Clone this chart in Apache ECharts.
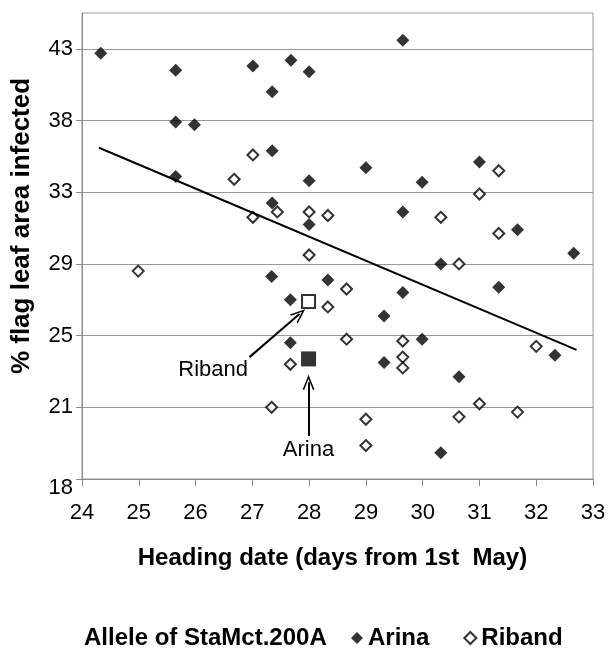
<!DOCTYPE html>
<html>
<head>
<meta charset="utf-8">
<script src="https://cdn.jsdelivr.net/npm/echarts@6/dist/echarts.min.js"></script>
<style>
    html, body { margin: 0; padding: 0; background: #fff; }
    #chart { width: 609px; height: 650px; }
</style>
</head>
<body>
<div id="chart"></div>
<script>
// y axis labels are evenly spaced but not evenly valued
var yTicks = [18, 21, 25, 29, 33, 38, 43];
var dayTicks = [24, 25, 26, 27, 28, 29, 30, 31, 32, 33];

var arinaDay = [24.33, 25.65, 25.65, 25.98, 25.65, 27.01, 27.68, 28.0, 27.35, 29.65, 27.35, 29.0, 31.0, 28.0, 29.99, 27.35, 29.65,
    28.0, 31.67, 32.66, 30.32, 27.34, 28.33, 31.34, 29.65, 27.67, 29.32, 29.99, 27.67, 32.33, 29.32, 30.64, 30.32];
var arinaPct = [42.7, 41.5, 37.9, 37.7, 34.1, 41.8, 42.2, 41.4, 40.0, 43.6, 35.9, 34.7, 35.1, 33.8, 33.7, 32.4, 31.9,
    31.2, 30.9, 29.6, 29.0, 28.3, 28.1, 27.7, 27.4, 27.0, 26.1, 24.8, 24.6, 23.9, 23.5, 22.7, 19.1];

var ribandDay = [24.99, 27.01, 26.68, 27.44, 28.0, 28.33, 27.01, 31.34, 31.0, 30.32, 31.34, 28.0, 30.64, 28.66, 28.33, 28.66,
    29.65, 32.0, 29.65, 29.65, 27.67, 27.34, 31.0, 31.67, 29.0, 30.64, 29.0];
var ribandPct = [28.6, 35.6, 33.9, 31.9, 31.9, 31.7, 31.6, 34.5, 32.9, 31.6, 30.7, 29.5, 29.0, 27.6, 26.6, 24.8,
    24.7, 24.4, 23.8, 23.2, 23.4, 21.0, 21.2, 20.8, 20.5, 20.6, 19.4];

// parent lines
var arinaParent = [27.99, 23.7];
var ribandParent = [27.99, 26.9];

// linear trend
var trendDay = [24.3, 32.71];
var trendPct = [36.1, 24.2];

// annotation arrows [from, to] and label spots
var ribandArrow = [[26.95, 23.8], [27.83, 26.2]];
var arinaArrow = [[27.99, 19.8], [27.99, 22.4]];
var ribandLabelAt = [26.31, 23.1];
var arinaLabelAt = [27.99, 19.2];

var FONT = "'Liberation Sans', Arial, sans-serif";

// map a percent value onto the evenly spaced tick positions
function toPos(v) {
    var n = yTicks.length;
    for (var i = 0; i < n - 1; i++) {
        if (v <= yTicks[i + 1] || i === n - 2) {
            return i + (v - yTicks[i]) / (yTicks[i + 1] - yTicks[i]);
        }
    }
}
function pt(d, p) { return [d, toPos(p)]; }
function zipPts(days, pcts) {
    return days.map(function (d, i) { return pt(d, pcts[i]); });
}

var arrowHead = 'path://M5,0 L10,12 L8.6,12 L5,3.2 L1.4,12 L0,12 Z';

var chart = echarts.init(document.getElementById('chart'), null, { renderer: 'canvas' });

chart.setOption({
    animation: false,
    backgroundColor: '#fff',
    textStyle: { fontFamily: FONT },
    title: {
        text: 'Allele of StaMct.200A',
        left: 84,
        top: 626,
        padding: 0,
        textStyle: { fontFamily: FONT, fontSize: 24, fontWeight: 'bold', color: '#000' }
    },
    legend: {
        data: ['Arina', 'Riband'],
        left: 351,
        top: 626,
        padding: 0,
        itemGap: 34,
        itemWidth: 12,
        itemHeight: 12,
        textStyle: { fontFamily: FONT, fontSize: 24, fontWeight: 'bold', color: '#000' }
    },
    grid: {
        left: 82, right: 16, top: 13, bottom: 171,
        show: true, borderColor: '#999', borderWidth: 1
    },
    xAxis: {
        type: 'value',
        min: dayTicks[0],
        max: dayTicks[dayTicks.length - 1],
        interval: 1,
        name: 'Heading date (days from 1st  May)',
        nameLocation: 'middle',
        nameGap: 67,
        nameTextStyle: { fontFamily: FONT, fontSize: 24, fontWeight: 'bold', color: '#000', padding: [0, 10, 0, 0] },
        axisLine: { lineStyle: { color: '#888', width: 1 } },
        axisTick: { inside: false, length: 7, lineStyle: { color: '#888' } },
        axisLabel: { margin: 23, fontSize: 22, color: '#000', fontFamily: FONT },
        splitLine: { show: false }
    },
    yAxis: {
        type: 'value',
        min: 0,
        max: 6.5,
        interval: 1,
        name: '% flag leaf area infected',
        nameLocation: 'middle',
        nameGap: 47,
        nameTextStyle: { fontFamily: FONT, fontSize: 26, fontWeight: 'bold', color: '#000', padding: [0, 0, 0, 40] },
        axisLine: { show: true, lineStyle: { color: '#888', width: 1 } },
        axisTick: { show: true, length: 6, lineStyle: { color: '#888' }, customValues: [0, 1, 2, 3, 4, 5, 6] },
        axisLabel: {
            margin: 9, fontSize: 22, color: '#000', fontFamily: FONT,
            customValues: [0, 1, 2, 3, 4, 5, 6],
            formatter: function (v) {
                if (v !== Math.round(v) || yTicks[v] === undefined) return '';
                return v === 0 ? '{low|' + yTicks[v] + '}' : String(yTicks[v]);
            },
            rich: { low: { fontSize: 22, fontFamily: FONT, color: '#000', padding: [18, 0, 0, 0] } }
        },
        splitLine: { show: true, lineStyle: { color: '#999', width: 1 } }
    },
    series: [
        {
            name: 'Arina',
            type: 'scatter',
            symbol: 'diamond',
            symbolSize: 13,
            itemStyle: { color: '#000' },
            data: zipPts(arinaDay, arinaPct),
            z: 3
        },
        {
            name: 'Riband',
            type: 'scatter',
            symbol: 'diamond',
            symbolSize: 11,
            itemStyle: { color: '#fff', borderColor: '#000', borderWidth: 2 },
            data: zipPts(ribandDay, ribandPct),
            z: 4
        },
        {
            name: 'Arina parent',
            type: 'scatter',
            symbol: 'rect',
            symbolSize: 15,
            itemStyle: { color: '#000' },
            data: [pt(arinaParent[0], arinaParent[1])],
            z: 5
        },
        {
            name: 'Riband parent',
            type: 'scatter',
            symbol: 'rect',
            symbolSize: 13,
            itemStyle: { color: '#fff', borderColor: '#000', borderWidth: 2 },
            data: [pt(ribandParent[0], ribandParent[1])],
            z: 5
        },
        {
            name: 'trend',
            type: 'line',
            showSymbol: false,
            symbol: 'none',
            lineStyle: { color: '#000', width: 2 },
            data: zipPts(trendDay, trendPct),
            z: 6,
            markLine: {
                silent: true,
                symbol: ['none', arrowHead],
                symbolSize: [12, 15],
                lineStyle: { color: '#000', width: 2, type: 'solid' },
                label: { show: false },
                data: [
                    [{ coord: pt(ribandArrow[0][0], ribandArrow[0][1]) }, { coord: pt(ribandArrow[1][0], ribandArrow[1][1]) }],
                    [{ coord: pt(arinaArrow[0][0], arinaArrow[0][1]) }, { coord: pt(arinaArrow[1][0], arinaArrow[1][1]) }]
                ]
            }
        },
        {
            name: 'labels',
            type: 'scatter',
            symbolSize: 0,
            silent: true,
            label: {
                show: true,
                position: 'inside',
                formatter: '{b}',
                fontFamily: FONT,
                fontSize: 22,
                color: '#000',
                textBorderWidth: 0,
                opacity: 1
            },
            itemStyle: { opacity: 1 },
            data: [
                { name: 'Riband', value: pt(ribandLabelAt[0], ribandLabelAt[1]) },
                { name: 'Arina', value: pt(arinaLabelAt[0], arinaLabelAt[1]) }
            ]
        }
    ]
});
</script>
</body>
</html>
